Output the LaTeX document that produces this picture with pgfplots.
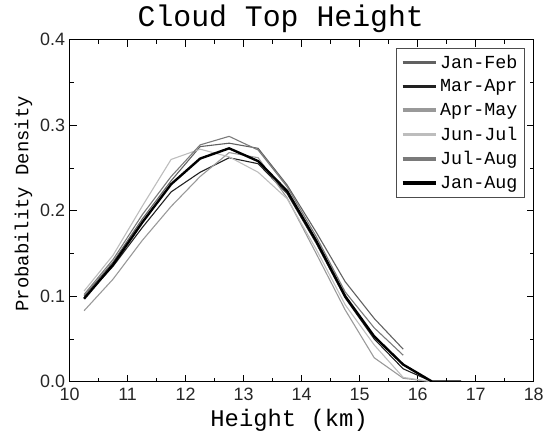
\documentclass[border=0pt]{standalone}
\usepackage{fontspec}
\setmainfont{Liberation Mono}
\newfontfamily\tickfont{Liberation Sans}
\usepackage{pgfplots}
\pgfplotsset{compat=1.18}
\definecolor{cJF}{gray}{0.38}
\definecolor{cMA}{gray}{0.13}
\definecolor{cAM}{gray}{0.60}
\definecolor{cJJ}{gray}{0.74}
\definecolor{cJA}{gray}{0.48}

\begin{document}
\begin{tikzpicture}
\begin{axis}[
  scale only axis, width=467pt, height=344pt,
  xmin=10, xmax=18, ymin=0, ymax=0.4,
  xtick={10,...,18}, minor x tick num=1,
  ytick={0,0.1,...,0.4}, minor y tick num=1,
  yticklabel style={/pgf/number format/fixed, /pgf/number format/precision=1,
    /pgf/number format/fixed zerofill, xshift=-1pt},
  xticklabel style={yshift=-3pt},
  /pgf/number format/assume math mode=true,
  tick label style={font=\tickfont\fontsize{18}{20}\selectfont, text=black!85},
  tick align=inside, major tick length=7pt, minor tick length=4pt,
  every tick/.style={black, line width=0.6pt},
  axis line style={line width=0.8pt},
  title={Cloud Top Height},
  title style={font=\fontsize{30}{32}\selectfont, at={(0.455,1)}, anchor=south, yshift=-2pt},
  xlabel={Height (km)},
  xlabel style={font=\fontsize{24}{26}\selectfont, at={(ticklabel cs:0.473)},
    anchor=near ticklabel, yshift=-2pt},
  ylabel={Probability Density},
  ylabel style={font=\fontsize{19}{21}\selectfont, at={(ticklabel cs:0.52)},
    anchor=near ticklabel, yshift=1pt},
  legend style={at={(1,1)}, xshift=-9pt, yshift=-8pt, anchor=north east,
    font=\fontsize{18.5}{20}\selectfont, draw=black!70, line width=0.8pt,
    row sep=6pt, inner sep=5pt},
  legend cell align=left,
  legend image code/.code={\draw[#1, line width=3.5pt] (0pt,0pt) -- (34pt,0pt);},
]
\addplot[cJF, line width=1.1pt] coordinates {
  (10.25,0.100) (10.75,0.140) (11.25,0.190) (11.75,0.235) (12.25,0.275)
  (12.75,0.279) (13.25,0.273) (13.75,0.230) (14.25,0.175) (14.75,0.117)
  (15.25,0.074) (15.75,0.038)};
\addlegendentry{Jan-Feb}
\addplot[cMA, line width=1.1pt] coordinates {
  (10.25,0.098) (10.75,0.135) (11.25,0.180) (11.75,0.222) (12.25,0.245)
  (12.75,0.262) (13.25,0.255) (13.75,0.220) (14.25,0.162) (14.75,0.098)
  (15.25,0.050) (15.75,0.015) (16.25,0.000)};
\addlegendentry{Mar-Apr}
\addplot[cAM, line width=1.1pt] coordinates {
  (10.25,0.083) (10.75,0.120) (11.25,0.165) (11.75,0.205) (12.25,0.240)
  (12.75,0.268) (13.25,0.262) (13.75,0.215) (14.25,0.150) (14.75,0.084)
  (15.25,0.028) (15.75,0.004) (16.25,0.000)};
\addlegendentry{Apr-May}
\addplot[cJJ, line width=1.1pt] coordinates {
  (10.25,0.106) (10.75,0.148) (11.25,0.205) (11.75,0.260) (12.25,0.272)
  (12.75,0.263) (13.25,0.245) (13.75,0.214) (14.25,0.155) (14.75,0.090)
  (15.25,0.043) (15.75,0.005) (16.25,0.000)};
\addlegendentry{Jun-Jul}
\addplot[cJA, line width=1.1pt] coordinates {
  (10.25,0.102) (10.75,0.143) (11.25,0.195) (11.75,0.240) (12.25,0.277)
  (12.75,0.287) (13.25,0.271) (13.75,0.228) (14.25,0.170) (14.75,0.105)
  (15.25,0.063) (15.75,0.031)};
\addlegendentry{Jul-Aug}
\addplot[black, line width=2.4pt] coordinates {
  (10.25,0.097) (10.75,0.137) (11.25,0.186) (11.75,0.231) (12.25,0.261)
  (12.75,0.273) (13.25,0.258) (13.75,0.223) (14.25,0.165) (14.75,0.100)
  (15.25,0.053) (15.75,0.020) (16.25,0.000) (16.75,0.000)};
\addlegendentry{Jan-Aug}
\end{axis}
\path[use as bounding box] (-70pt,-51pt) rectangle (477pt,384pt);
\end{tikzpicture}
\end{document}
